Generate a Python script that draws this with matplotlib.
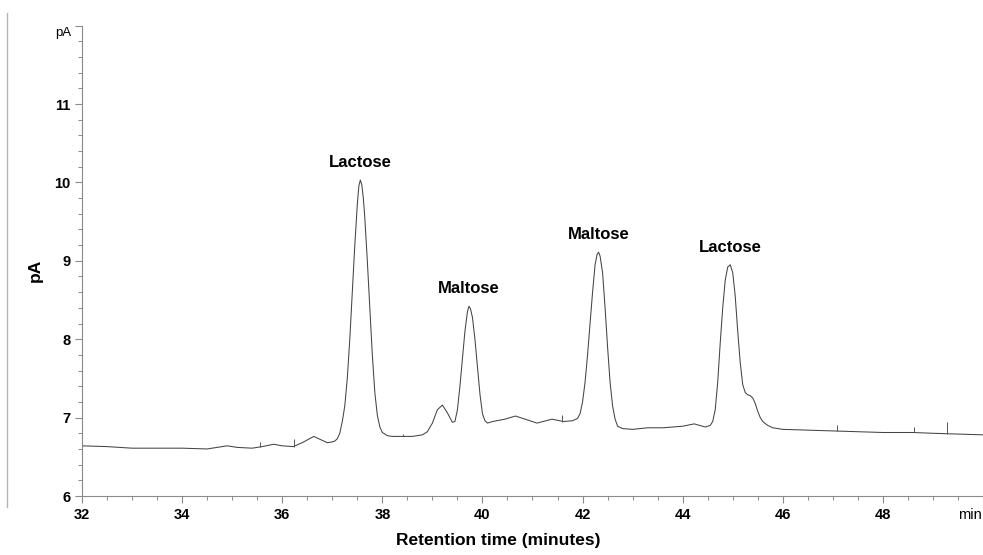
import matplotlib
matplotlib.use("Agg")
import matplotlib.pyplot as plt
from matplotlib.lines import Line2D
from matplotlib.ticker import MultipleLocator

REG = ["Liberation Sans", "DejaVu Sans"]

# chromatogram trace (min, pA)
base_t = [32.0, 32.5, 33.0, 33.5, 34.0, 34.5, 34.7, 34.9, 35.1, 35.4, 35.6, 35.83,
          36.0, 36.22, 36.4, 36.63, 36.8, 36.9, 37.0]
base_pA = [6.64, 6.63, 6.61, 6.61, 6.61, 6.60, 6.62, 6.64, 6.62, 6.61, 6.63, 6.66,
           6.64, 6.63, 6.68, 6.76, 6.71, 6.68, 6.69]

lac1_t = [37.05, 37.1, 37.15, 37.2, 37.25, 37.3, 37.35, 37.4, 37.45, 37.5, 37.53,
          37.56, 37.59, 37.62, 37.65, 37.7, 37.75, 37.8, 37.85, 37.9, 37.95, 38.0,
          38.1, 38.2]
lac1_pA = [6.70, 6.73, 6.80, 6.95, 7.15, 7.50, 8.00, 8.60, 9.20, 9.72, 9.95,
           10.03, 9.97, 9.80, 9.55, 9.00, 8.40, 7.80, 7.32, 7.03, 6.88, 6.81,
           6.77, 6.76]

mal1_t = [38.4, 38.6, 38.8, 38.9, 39.0, 39.1, 39.2, 39.3, 39.4, 39.45, 39.5, 39.55,
          39.6, 39.65, 39.7, 39.73, 39.76, 39.8, 39.85, 39.9, 39.95, 40.0, 40.05,
          40.1, 40.2]
mal1_pA = [6.76, 6.76, 6.78, 6.82, 6.93, 7.10, 7.16, 7.06, 6.94, 6.95, 7.10, 7.40,
           7.75, 8.10, 8.35, 8.42, 8.39, 8.28, 8.00, 7.65, 7.30, 7.05, 6.96,
           6.93, 6.95]

mal2_t = [40.45, 40.66, 40.9, 41.09, 41.39, 41.62, 41.8, 41.9, 41.95, 42.0, 42.05,
          42.1, 42.15, 42.2, 42.25, 42.29, 42.32, 42.35, 42.4, 42.45, 42.5, 42.55,
          42.6, 42.65, 42.7, 42.8, 43.0, 43.3, 43.6, 44.0, 44.23, 44.45]
mal2_pA = [6.98, 7.02, 6.97, 6.93, 6.98, 6.95, 6.96, 6.99, 7.05, 7.20, 7.45,
           7.80, 8.20, 8.60, 8.95, 9.08, 9.11, 9.06, 8.85, 8.40, 7.90, 7.45,
           7.15, 6.98, 6.89, 6.86, 6.85, 6.87, 6.87, 6.89, 6.92, 6.88]

lac2_t = [44.55, 44.6, 44.65, 44.7, 44.75, 44.8, 44.85, 44.9, 44.95, 45.0, 45.05,
          45.1, 45.15, 45.2, 45.25, 45.3, 45.35, 45.4, 45.45, 45.5, 45.55, 45.6,
          45.7, 45.8, 46.0, 46.5, 47.0, 47.5, 48.0, 48.6, 49.0, 49.5, 50.0]
lac2_pA = [6.90, 6.95, 7.10, 7.45, 7.95, 8.40, 8.75, 8.92, 8.95, 8.85, 8.55,
           8.10, 7.70, 7.42, 7.32, 7.29, 7.28, 7.25, 7.18, 7.08, 7.00, 6.95,
           6.90, 6.87, 6.85, 6.84, 6.83, 6.82, 6.81, 6.81, 6.80, 6.79, 6.78]

# little detector spikes on the baseline: time, bottom, top
spike_t = [35.55, 36.23, 38.41, 41.58, 47.08, 48.62, 49.29]
spike_lo = [6.62, 6.63, 6.76, 6.95, 6.83, 6.81, 6.79]
spike_hi = [6.69, 6.73, 6.79, 7.03, 6.90, 6.88, 6.95]

peak_names = ["Lactose", "Maltose", "Maltose", "Lactose"]
peak_t = [37.56, 39.73, 42.32, 44.95]
peak_pA = [10.03, 8.42, 9.11, 8.95]

x_ticks = [32, 34, 36, 38, 40, 42, 44, 46, 48, 50]
y_ticks = [6, 7, 8, 9, 10, 11, 12]

t = base_t + lac1_t + mal1_t + mal2_t + lac2_t
pA = base_pA + lac1_pA + mal1_pA + mal2_pA + lac2_pA

W, H = 983, 555
fig = plt.figure(figsize=(W / 100, H / 100), dpi=100)
ax = fig.add_axes([82 / W, 1 - 496 / H, (W - 82) / W, (496 - 25.6) / H])

ax.plot(t, pA, color="#444444", lw=0.75)
ax.vlines(spike_t, spike_lo, spike_hi, color="#555555", lw=0.7)

for name, px, py in zip(peak_names, peak_t, peak_pA):
    ax.annotate(name, xy=(px, py), xytext=(0, 12.5), textcoords="offset points",
                ha="center", va="center", fontsize=12, fontweight="bold", family=REG)

ax.set_xlim(32, 50)
ax.set_ylim(6, 12)
for s in ["top", "right"]:
    ax.spines[s].set_visible(False)
for s in ["left", "bottom"]:
    ax.spines[s].set_color("#8a8a8a")
    ax.spines[s].set_linewidth(0.8)

ax.set_xticks(x_ticks)
ax.set_xticklabels([str(v) for v in x_ticks[:-1]] + [""], fontsize=10.5,
                   fontweight="bold", family=REG)
ax.set_yticks(y_ticks)
ax.set_yticklabels([str(v) for v in y_ticks[:-1]] + [""], fontsize=10.5,
                   fontweight="bold", family=REG)
ax.xaxis.set_minor_locator(MultipleLocator(0.5))
ax.yaxis.set_minor_locator(MultipleLocator(0.2))
ax.tick_params(which="major", length=5, width=0.8, color="#8a8a8a", pad=3.5)
ax.tick_params(which="minor", length=3, width=0.7, color="#8a8a8a")

# unit labels at the axis ends
ax.annotate("min", xy=(1, 0), xycoords="axes fraction", xytext=(-1, -8.5),
            textcoords="offset points", ha="right", va="top", fontsize=10.5, family=REG)
ax.annotate("pA", xy=(0, 1), xycoords="axes fraction", xytext=(-8, -5.5),
            textcoords="offset points", ha="right", va="center", fontsize=9.5, family=REG)

fig.text(35 / W, 1 - 270 / H, "pA", rotation=90, ha="center", va="center",
         fontsize=12.5, fontweight="bold", family=REG)
fig.text(498 / W, 1 - 540 / H, "Retention time (minutes)", ha="center", va="center",
         fontsize=12.5, fontweight="bold", family=REG)

# grey page edge on the far left
fig.add_artist(Line2D([7 / W, 7 / W], [1 - 13 / H, 1 - 507 / H], color="#b4b4b4", lw=1))

fig.savefig("out.png", dpi=100, facecolor="white")
